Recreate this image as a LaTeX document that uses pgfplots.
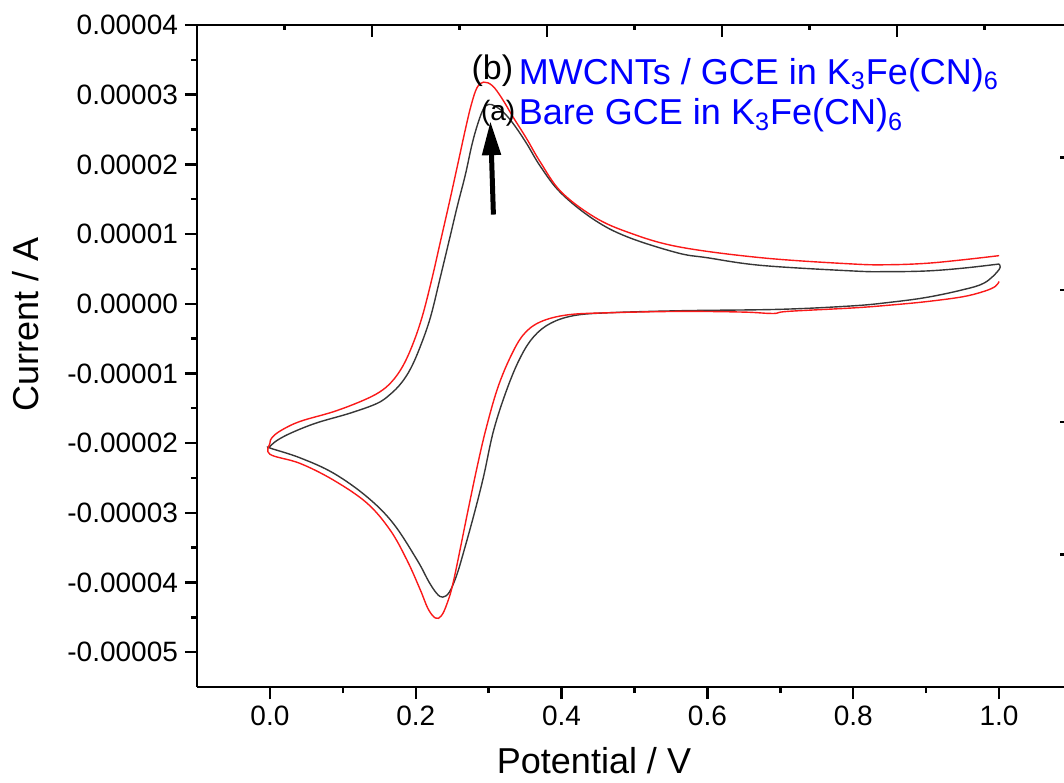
\documentclass[border=0pt]{standalone}
\usepackage{fontspec}
\setmainfont{Liberation Sans}
\usepackage{pgfplots}
\pgfplotsset{compat=1.18}
\usetikzlibrary{arrows.meta}
\definecolor{cvblack}{RGB}{55,55,55}
\definecolor{cvred}{RGB}{250,25,25}
\definecolor{txtblue}{RGB}{0,0,255}
\begin{document}
\begin{tikzpicture}
\begin{axis}[
  at={(0pt,0pt)}, anchor=south west,
  width=437.5pt, height=331pt, scale only axis,
  xmin=-0.1, xmax=1.1, ymin=-5.5e-5, ymax=4e-5,
  axis x line*=bottom, axis y line*=left,
  axis line style={line width=1.3pt, -},
  every tick/.style={line width=1.2pt, black},
  tick align=outside,
  major tick length=6pt, minor tick length=3pt,
  xtick={0,0.2,0.4,0.6,0.8,1.0},
  minor x tick num=1,
  ytick={-5e-5,-4e-5,-3e-5,-2e-5,-1e-5,0,1e-5,2e-5,3e-5,4e-5},
  minor y tick num=1,
  scaled y ticks=false, scaled x ticks=false,
  /pgf/number format/assume math mode=true,
  xticklabel style={/pgf/number format/.cd, fixed, fixed zerofill, precision=1},
  yticklabel style={/pgf/number format/.cd, fixed, fixed zerofill, precision=5},
  ticklabel style={font=\fontsize{14}{16}\selectfont},
  xlabel={Potential / V},
  ylabel={Current / A},
  every axis x label/.style={at={(axis description cs:0.4537,-0.131)}, anchor=base, inner sep=0pt, font=\fontsize{18}{20}\selectfont},
  every axis y label/.style={at={(axis description cs:-0.1954,0.547)}, anchor=center, rotate=90, font=\fontsize{18}{20}\selectfont},
  clip=false,
]
% (a) Bare GCE
\addplot[color=cvblack, line width=0.7pt, smooth, tension=0.6] coordinates {
(1.000,0.57e-5) (0.950,0.51e-5) (0.900,0.47e-5) (0.843,0.46e-5) (0.800,0.47e-5)
(0.674,0.55e-5) (0.600,0.66e-5) (0.559,0.73e-5) (0.490,0.96e-5) (0.444,1.21e-5)
(0.399,1.59e-5) (0.371,1.97e-5) (0.352,2.30e-5) (0.334,2.58e-5) (0.320,2.75e-5)
(0.308,2.84e-5) (0.300,2.86e-5) (0.293,2.80e-5) (0.285,2.58e-5) (0.277,2.28e-5)
(0.268,1.85e-5) (0.257,1.40e-5) (0.247,0.96e-5) (0.233,0.35e-5)
(0.220,-0.20e-5) (0.206,-0.62e-5) (0.193,-0.93e-5) (0.180,-1.14e-5) (0.165,-1.30e-5) (0.147,-1.43e-5)
(0.110,-1.57e-5) (0.064,-1.71e-5) (0.030,-1.85e-5) (0.010,-1.96e-5) (0.000,-2.05e-5) (0.000,-2.07e-5)
(0.041,-2.21e-5) (0.087,-2.43e-5) (0.133,-2.77e-5) (0.169,-3.15e-5) (0.202,-3.68e-5)
(0.218,-3.99e-5) (0.229,-4.16e-5) (0.237,-4.21e-5) (0.246,-4.14e-5) (0.256,-3.90e-5) (0.266,-3.55e-5) (0.280,-3.02e-5)
(0.293,-2.48e-5) (0.307,-1.81e-5) (0.326,-1.20e-5) (0.344,-0.76e-5) (0.362,-0.47e-5)
(0.385,-0.28e-5) (0.417,-0.17e-5) (0.463,-0.13e-5) (0.564,-0.10e-5) (0.700,-0.08e-5)
(0.800,-0.03e-5) (0.850,0.02e-5) (0.900,0.09e-5) (0.950,0.20e-5) (0.980,0.30e-5)
(1.000,0.49e-5) (1.000,0.57e-5)
};
% (b) MWCNTs / GCE
\addplot[color=cvred, line width=0.7pt, smooth, tension=0.6] coordinates {
(1.000,0.69e-5) (0.950,0.63e-5) (0.900,0.58e-5) (0.850,0.56e-5) (0.800,0.57e-5)
(0.674,0.66e-5) (0.559,0.82e-5) (0.490,1.03e-5) (0.444,1.25e-5) (0.399,1.61e-5)
(0.371,2.03e-5) (0.352,2.37e-5) (0.334,2.67e-5) (0.318,2.95e-5) (0.305,3.13e-5) (0.293,3.18e-5) (0.284,3.10e-5) (0.276,2.85e-5)
(0.268,2.50e-5) (0.258,2.02e-5) (0.246,1.45e-5) (0.234,0.90e-5) (0.222,0.35e-5) (0.209,-0.18e-5) (0.196,-0.58e-5)
(0.182,-0.90e-5) (0.167,-1.12e-5) (0.150,-1.27e-5) (0.125,-1.40e-5) (0.087,-1.55e-5) (0.041,-1.69e-5)
(0.015,-1.82e-5) (0.003,-1.92e-5) (0.000,-2.00e-5) (0.000,-2.16e-5) (0.041,-2.29e-5) (0.087,-2.53e-5)
(0.133,-2.86e-5) (0.165,-3.25e-5) (0.188,-3.68e-5) (0.206,-4.10e-5) (0.217,-4.38e-5)
(0.227,-4.51e-5) (0.235,-4.48e-5) (0.243,-4.30e-5) (0.252,-3.97e-5) (0.271,-3.00e-5) (0.284,-2.35e-5)
(0.296,-1.81e-5) (0.312,-1.22e-5) (0.330,-0.76e-5) (0.348,-0.44e-5) (0.371,-0.26e-5)
(0.408,-0.16e-5) (0.463,-0.13e-5) (0.564,-0.11e-5) (0.650,-0.12e-5) (0.690,-0.14e-5)
(0.710,-0.11e-5) (0.800,-0.06e-5) (0.850,-0.02e-5) (0.900,0.03e-5) (0.950,0.10e-5)
(0.980,0.18e-5) (0.995,0.25e-5) (1.000,0.32e-5)
};
\draw[line width=2.5pt, -{Triangle[length=17pt,width=9pt]}] (axis cs:0.3065,1.28e-5) -- (axis cs:0.3024,2.62e-5);
\node[font=\fontsize{17}{19}\selectfont, inner sep=0pt] at (axis cs:0.305,3.35e-5) {(b)};
\node[font=\fontsize{14}{16}\selectfont, inner sep=0pt] at (axis cs:0.313,2.73e-5) {(a)};
\node[font=\fontsize{18}{20}\selectfont, text=txtblue, anchor=base west, inner sep=0pt] at (axis cs:0.341,3.15e-5) {MWCNTs / GCE in K\textsubscript{3}Fe(CN)\textsubscript{6}};
\node[font=\fontsize{18}{20}\selectfont, text=txtblue, anchor=base west, inner sep=0pt] at (axis cs:0.341,2.57e-5) {Bare GCE in K\textsubscript{3}Fe(CN)\textsubscript{6}};
\end{axis}
\begin{axis}[
  at={(0pt,0pt)}, anchor=south west,
  width=437.5pt, height=331pt, scale only axis,
  xmin=0, xmax=5, ymin=0, ymax=5,
  axis x line*=top, axis y line*=right,
  axis line style={line width=1.3pt, -},
  every tick/.style={line width=1.2pt, black},
  tick align=inside,
  major tick length=6pt, minor tick length=2.5pt,
  xtick={0,1,2,3,4,5}, ytick={0,1,2,3,4,5},
  minor x tick num=1, minor y tick num=1,
  minor y tick style={gray!50},
  xticklabels={}, yticklabels={},
]
\end{axis}
\pgfresetboundingbox
\path[use as bounding box] (-98.5pt,-47.5pt) rectangle (433.5pt,343.5pt);
\end{tikzpicture}
\end{document}
